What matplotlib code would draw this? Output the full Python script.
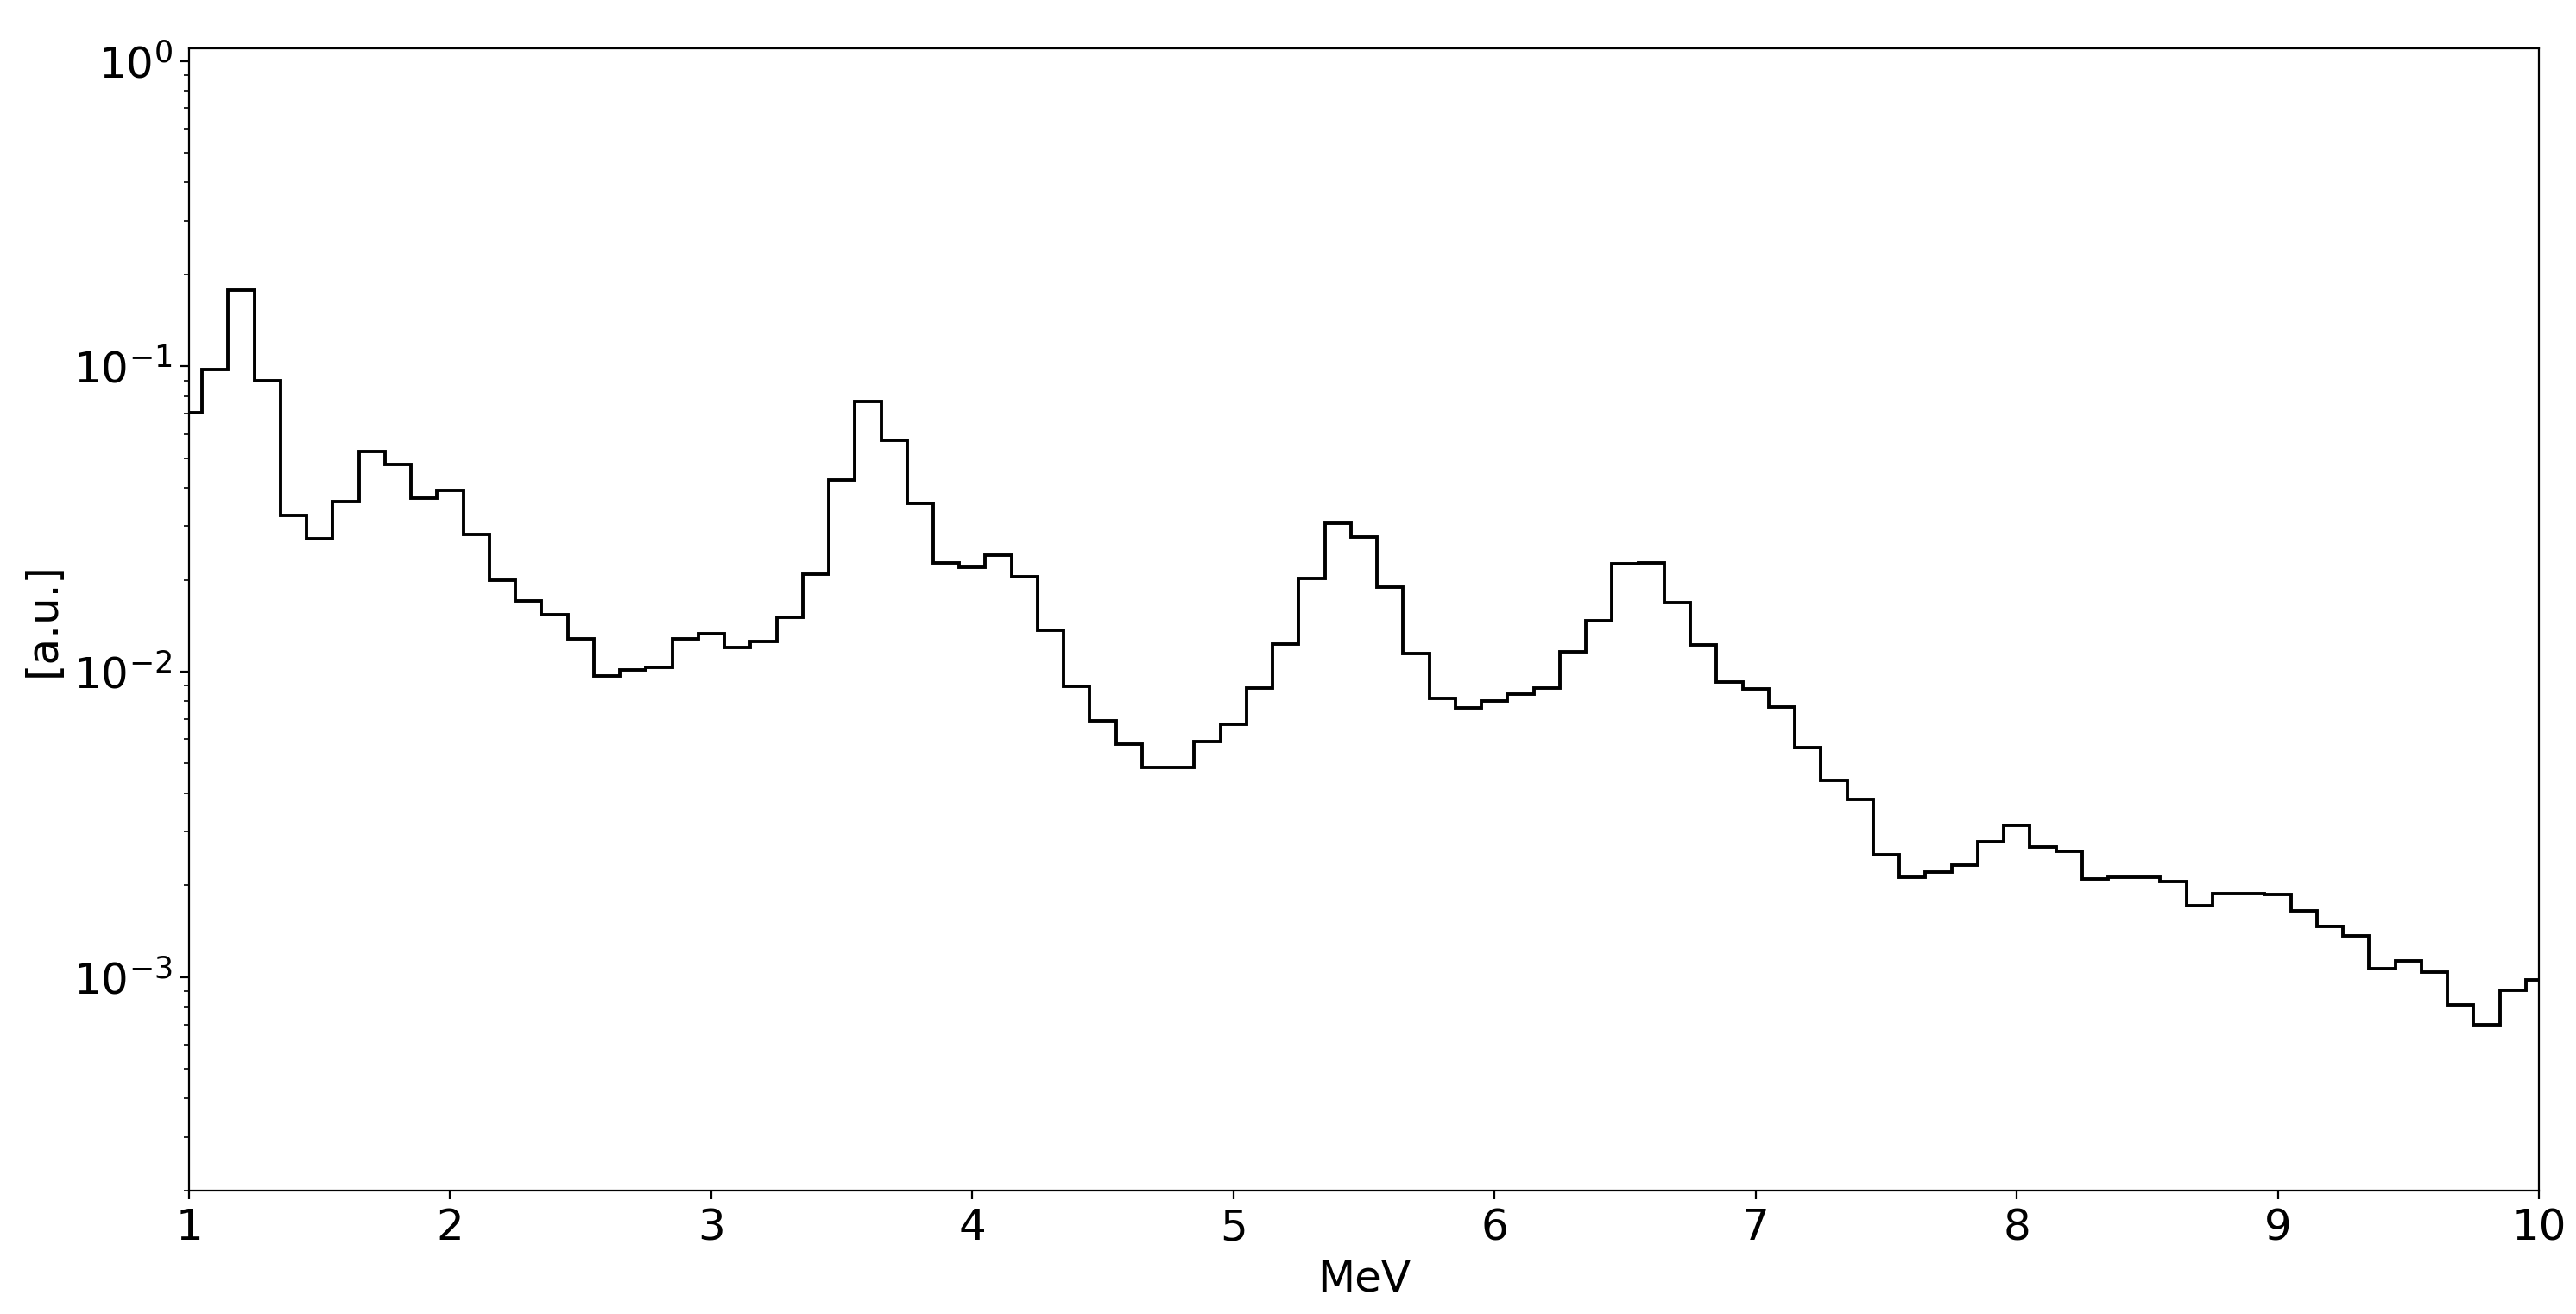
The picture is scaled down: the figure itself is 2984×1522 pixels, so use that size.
import numpy as np
import matplotlib
matplotlib.use('Agg')
import matplotlib.pyplot as plt

# bin edges (0.1 MeV bins centred on 1.0, 1.1, ..., 10.0)
bin_edges = np.linspace(0.95, 10.05, 92)

# counts per bin [a.u.]
counts = [
    0.0705, 0.0977, 0.178, 0.0895, 0.0324, 0.0272, 0.0361, 0.0527, 0.0478, 0.0369,
    0.0392, 0.0281, 0.0200, 0.0171, 0.0154, 0.0128, 0.0097, 0.0101, 0.0103, 0.0128,
    0.0133, 0.0120, 0.0126, 0.0151, 0.0209, 0.0425, 0.0769, 0.0573, 0.0357, 0.0227,
    0.0220, 0.0241, 0.0205, 0.0137, 0.00893, 0.00692, 0.00579, 0.00484, 0.00484, 0.00589,
    0.00673, 0.00886, 0.0123, 0.0202, 0.0306, 0.0277, 0.0189, 0.0115, 0.0082, 0.0076,
    0.0080, 0.00846, 0.00886, 0.0116, 0.0147, 0.0225, 0.0227, 0.0168, 0.0122, 0.00927,
    0.00877, 0.00767, 0.00564, 0.00439, 0.00382, 0.00252, 0.00212, 0.00221, 0.00232, 0.00277,
    0.00313, 0.00266, 0.00259, 0.00209, 0.00212, 0.00212, 0.00205, 0.00171, 0.00188, 0.00188,
    0.00186, 0.00165, 0.001465, 0.001368, 0.001065, 0.00113, 0.00104, 0.000812, 0.000698, 0.000908,
    0.000982,
]

plt.rcParams['font.size'] = 18

fig = plt.figure(figsize=(14.92, 7.61), dpi=200)
ax = fig.add_axes([0.0734, 0.094, 0.9122, 0.8692])

ax.stairs(counts, bin_edges, baseline=None, color='black', linewidth=1.4)

ax.set_yscale('log')
ax.set_xlim(1, 10)
ax.set_ylim(2e-4, 1.1)
ax.set_xticks(range(1, 11))
ax.set_xlabel('MeV')
ax.set_ylabel('[a.u.]')

fig.savefig('out.png', dpi=200)
